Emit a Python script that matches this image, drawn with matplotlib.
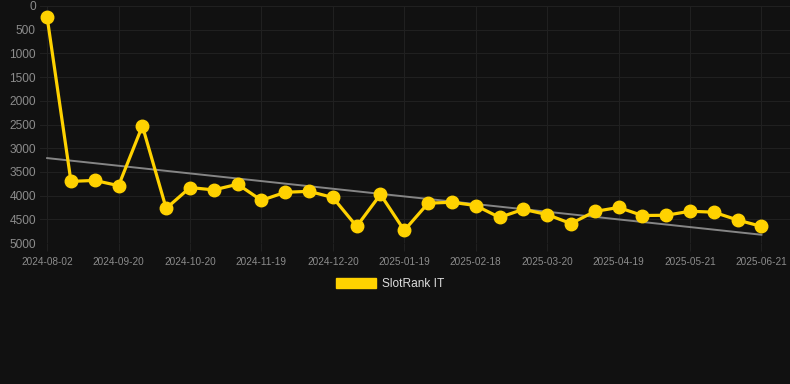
import matplotlib.pyplot as plt
import numpy as np

# Ranking SlotRank IT (menor = mejor), un punto por fecha
tick_labels = ['2024-08-02', '2024-09-20', '2024-10-20', '2024-11-19', '2024-12-20',
               '2025-01-19', '2025-02-18', '2025-03-20', '2025-04-19', '2025-05-21',
               '2025-06-21']
rank = [240, 3700, 3680, 3790, 2530, 4270, 3830, 3880, 3760, 4100,
        3930, 3910, 4040, 4650, 3975, 4735, 4160, 4140, 4210, 4460,
        4290, 4400, 4590, 4335, 4250, 4420, 4415, 4330, 4350, 4515,
        4650]
series_name = 'SlotRank IT'

bg = '#111111'
grid_col = '#202020'
yellow = '#FFD200'

plt.rcParams['font.family'] = ['Liberation Sans', 'DejaVu Sans']

fig = plt.figure(figsize=(7.9, 3.84), dpi=100, facecolor=bg)
ax = fig.add_axes([40 / 790, 1 - 243 / 384, 750 / 790, 237 / 384])
ax.set_facecolor(bg)

x = np.arange(len(rank))
ax.plot(x, rank, color=yellow, lw=2.3, marker='o', ms=9,
        markerfacecolor=yellow, markeredgecolor=yellow, label=series_name, zorder=3)

# linea de tendencia
coef = np.polyfit(x, rank, 1)
ax.plot(x, np.polyval(coef, x), color='#858585', lw=1.4, zorder=2)

ax.set_ylim(5000, 0)
ax.set_yticks(np.arange(0, 5001, 500))
ax.set_xlim(-0.3, 31.2)
ax.set_xticks(x[::3])
ax.set_xticklabels(tick_labels)

ax.grid(True, color=grid_col, lw=0.8)
for s in ax.spines.values():
    s.set_visible(False)
ax.tick_params(axis='y', length=0, pad=3, labelsize=8.6, labelcolor='#8c8c8c')
ax.tick_params(axis='x', length=6, color=grid_col, pad=4, labelsize=7.2,
               labelcolor='#8c8c8c')

leg = fig.legend(handles=[plt.Rectangle((0, 0), 1, 1, fc=yellow, ec=yellow)],
                 labels=[series_name], loc='center', bbox_to_anchor=(390 / 790, 1 - 284 / 384),
                 frameon=False, fontsize=8.6, handlelength=3.4, handleheight=1.0,
                 handletextpad=0.5, labelcolor='#dddddd')

fig.savefig('out.png', dpi=100, facecolor=bg)
